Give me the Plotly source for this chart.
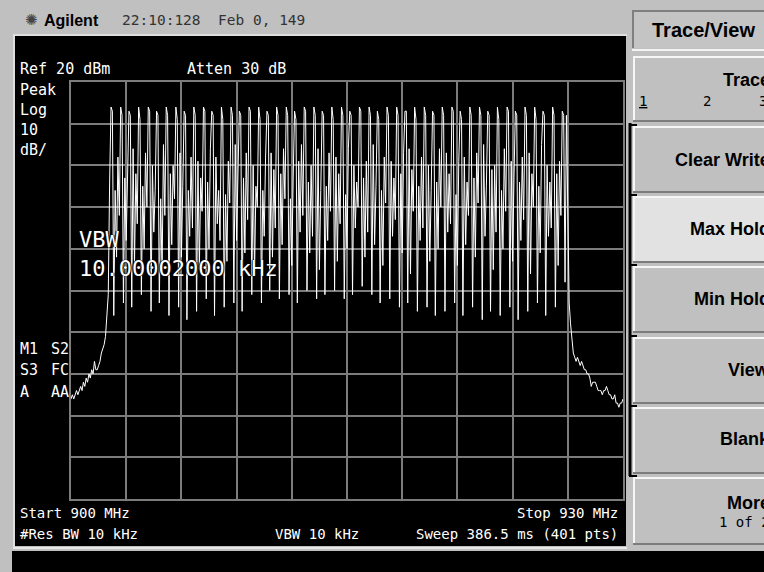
import numpy as np
import plotly.graph_objects as go

# ---------------- data ----------------
start_mhz = 900
stop_mhz = 930
n_points = 401
ref_dbm = 20
db_per_div = 10
n_div = 10

left_skirt_dbm = [-56, -55, -56, -55, -54, -55, -54, -53, -54, -52,
                  -53, -51, -52, -50, -51, -49, -50, -47, -49, -49,
                  -48, -47, -45, -44, -43, -41, -36, -31, -4]

comb_dbm = [
    14, 13, -36, -6, -22, 2, -12,
    14, 12, -33, -3, -18, -4,
    13, 12, -34, 4, -24, -2, -14,
    14, 11, -31, -5, -20, 3, -10,
    14, 13, -35, 0, -16, -6,
    13, 12, -33, -8, -26, 5, -12,
    14, 12, -36, -2, -19, 0, -8,
    14, 11, -34, 3, -22, -5,
    13, 12, -37, -6, -17, 2, -15,
    14, 12, -35, 1, -25, -3, -11,
    14, 13, -32, -4, -20, 4,
    13, 12, -36, 2, -14, -6, -18,
    14, 11, -34, -7, -23, 1, -9,
    14, 12, -33, 5, -18, -2,
    13, 12, -35, -3, -21, 3, -13,
    14, 13, -31, 0, -26, -5, -10,
    14, 11, -33, -6, -17, 2,
    13, 12, -30, 3, -22, -1, -15,
    14, 12, -32, -2, -19, 4, -8,
    14, 12, -31, -8, -24, -3,
    13, 11, -33, 1, -16, 5, -12,
    14, 13, -30, -4, -21, 0, -17,
    14, 12, -32, 4, -25, -6,
    13, 12, -31, -5, -18, 3, -11,
    14, 11, -30, 2, -23, -2, -14,
    14, 12, -32, -7, -20, 4,
    13, 12, -31, 0, -15, -4, -10,
    14, 13, -29, -3, -22, 1, -16,
    14, 12, -31, 5, -19, -5,
    13, 11, -33, -6, -24, 2, -9,
    14, 12, -32, 1, -17, -3, -13,
    14, 12, -34, -2, -21, 3,
    13, 13, -33, 4, -26, -1, -11,
    14, 11, -35, -5, -18, 2, -15,
    14, 12, -34, 0, -23, -6,
    13, 12, -36, -4, -20, 4, -10,
    14, 12, -35, 3, -16, -2, -14,
    14, 13, -33, -7, -24, 1,
    13, 11, -36, 2, -19, -4, -12,
    14, 12, -34, -3, -22, 3, -9,
    14, 12, -37, 5, -17, -5,
    13, 12, -35, -1, -25, 0, -16,
    14, 11, -36, -6, -20, 4, -11,
    14, 13, -34, 1, -23, -3,
    13, 12, -37, -4, -18, 2, -13,
    14, 12, -35, 3, -26, -2, -10,
    14, 11, -33, -5, -21, 5,
    13, 12, -36, 0, -17, -4, -15,
    14, 12, -34, -2, -24, 1, -12,
    13, 12, -28, 12, -6,
]

right_skirt_dbm = [-33, -38, -42, -45, -46, -47, -46, -47, -48, -47,
                   -48, -49, -49, -50, -50, -51, -53, -52, -52, -52,
                   -53, -54, -54, -54, -55, -54, -54, -53, -54, -55,
                   -55, -56, -56, -55, -57, -57, -58, -57, -57, -56]

trace_dbm = left_skirt_dbm + comb_dbm + right_skirt_dbm
assert len(trace_dbm) == n_points, len(trace_dbm)
freq_mhz = np.linspace(start_mhz, stop_mhz, n_points)

header_time = "22:10:128  Feb 0, 149"
top_labels = ["Ref 20 dBm", "Atten 30 dB"]
scale_labels = ["Peak", "Log", "10", "dB/"]
mode_labels = [("M1", "S2"), ("S3", "FC"), ("A", "AA")]
bottom_left = ["Start 900 MHz", "#Res BW 10 kHz"]
bottom_mid = "VBW 10 kHz"
bottom_right = ["Stop 930 MHz", "Sweep 386.5 ms (401 pts)"]
vbw_overlay = ["VBW", "10.00002000 kHz"]
menu_title = "Trace/View"
softkeys = ["Trace", "Clear Write", "Max Hold", "Min Hold", "View", "Blank", "More"]

# ---------------- layout helpers ----------------
W, H = 764, 572
PL, PR, PT, PB = 71, 623, 82, 499
GREY = "#c0c0c0"
MONO = "DejaVu Sans Mono"
SANS = "Liberation Sans"


def px(x):
    return (x - PL) / (PR - PL)


def py(y):
    return (PB - y) / (PB - PT)


shapes = []
annotations = []


def rect(x0, y0, x1, y1, fill, layer="above"):
    shapes.append(dict(type="rect", xref="paper", yref="paper",
                       x0=px(x0), x1=px(x1), y0=py(y1), y1=py(y0),
                       fillcolor=fill, line=dict(width=0), layer=layer))


def hline(x0, x1, y, color, w=1, layer="above"):
    shapes.append(dict(type="line", xref="paper", yref="paper",
                       x0=px(x0), x1=px(x1), y0=py(y), y1=py(y),
                       line=dict(color=color, width=w), layer=layer))


def vline(x, y0, y1, color, w=1, layer="above"):
    shapes.append(dict(type="line", xref="paper", yref="paper",
                       x0=px(x), x1=px(x), y0=py(y0), y1=py(y1),
                       line=dict(color=color, width=w), layer=layer))


def txt(s, x, y, size, color="white", family=MONO, anchor="left", weight="normal", shadow=None):
    font = dict(family=family, size=size, color=color, weight=weight)
    if shadow:
        font["shadow"] = shadow
    annotations.append(dict(text=s, x=px(x), y=py(y), xref="paper", yref="paper",
                            showarrow=False, xanchor=anchor, yanchor="middle",
                            borderpad=0, font=font))


# screen and frame
rect(15, 36, 626, 546, "black", layer="below")
hline(13, 627, 35, "#e8e8e8", 1.5, layer="below")
vline(14, 35, 547, "#e8e8e8", 1.5, layer="below")
hline(13, 627, 548, "#e8e8e8", 2, layer="below")
rect(12, 551, 764, 572, "black", layer="below")

# softkey panel
rect(632, 10, 770, 48, "#c4c4c4")
hline(632, 770, 11, "#808080", 2)
vline(633, 10, 48, "#808080", 2)
hline(632, 770, 50, "#f4f4f4", 2)

keys = [(56, 122), (126, 193), (196, 263), (266, 333), (337, 404), (407, 474), (477, 545)]
for i, (y0, y1) in enumerate(keys):
    fill = "#e2e2e2" if softkeys[i] == "Max Hold" else GREY
    rect(633, y0, 770, y1, fill)
    hline(633, 770, y0 + 1, "#f6f6f6", 2)
    vline(634, y0, y1, "#f6f6f6", 2)
    hline(633, 770, y1 - 1, "#7c7c7c", 2)

vline(630, 123, 476, "black", 3)
for (y0, y1) in keys[1:]:
    hline(629, 637, y0 - 1, "black", 2)

# ---------------- text ----------------
txt("✺", 24, 20, 15, "#444", "DejaVu Sans")
txt("Agilent", 43, 20, 16, "black", SANS, weight="bold")
txt(header_time, 121, 20, 14.5, "#333")

txt(top_labels[0], 19, 69, 15)
txt(top_labels[1], 186, 69, 15)
for lab, yy in zip(scale_labels, [90, 110, 130, 150]):
    txt(lab, 19, yy, 15)
for (a, b), yy in zip(mode_labels, [349, 370, 392]):
    txt(a, 19, yy, 15)
    txt(b, 50, yy, 15)

txt(bottom_left[0], 19, 513, 14)
txt(bottom_left[1], 19, 534, 14)
txt(bottom_mid, 274, 534, 14)
txt(bottom_right[0], 619, 513, 14, anchor="right")
txt(bottom_right[1], 619, 534, 14, anchor="right")

txt(menu_title, 703, 30, 20, "black", SANS, anchor="center", weight="bold")
key_text_y = [80, 160, 229, 299, 370, 439, 503]
for lab, yy in zip(softkeys, key_text_y):
    txt(lab, 771, yy, 18, "black", SANS, anchor="right", weight="bold")
txt("<u>1</u>", 638, 101, 14, "black")
txt("2", 702, 101, 14, "black")
txt("3", 758, 101, 14, "black")
txt("1 of 2", 771, 522, 14, "black", anchor="right")

# ---------------- figure ----------------
fig = go.Figure()
fig.add_trace(go.Scatter(x=freq_mhz, y=trace_dbm, mode="lines",
                         line=dict(color="white", width=1.0),
                         hoverinfo="skip", showlegend=False))

for lab, yy in zip(vbw_overlay, [239, 268]):
    txt(lab, 78, yy, 22, shadow="1px 0 1px black, -1px 0 1px black")

axis_common = dict(showgrid=True, gridcolor="#7c7c7c", gridwidth=1.5,
                   showline=True, linecolor="#7c7c7c", linewidth=2, mirror=True,
                   zeroline=False, showticklabels=False, ticks="", fixedrange=True)

fig.update_layout(
    width=W, height=H, autosize=False,
    margin=dict(l=PL, r=W - PR, t=PT, b=H - PB, pad=0),
    paper_bgcolor=GREY, plot_bgcolor="black",
    xaxis=dict(range=[start_mhz, stop_mhz], dtick=(stop_mhz - start_mhz) / n_div, **axis_common),
    yaxis=dict(range=[ref_dbm - n_div * db_per_div, ref_dbm], dtick=db_per_div, **axis_common),
    shapes=shapes, annotations=annotations, showlegend=False,
)

fig.write_html("out.html", config={"displayModeBar": False},
               post_script="document.body.style.margin='0';document.body.style.overflow='hidden';")
